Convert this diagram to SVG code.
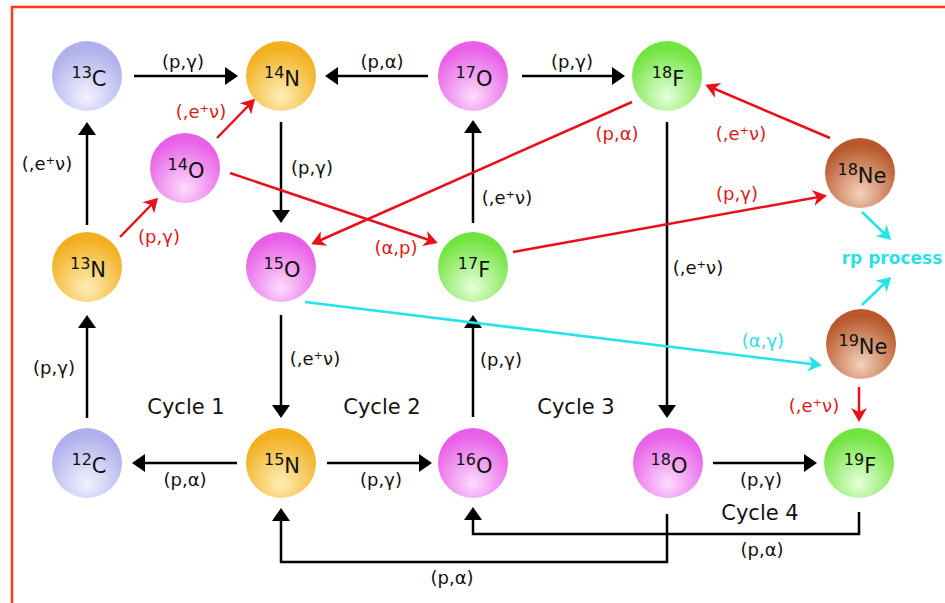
<svg xmlns="http://www.w3.org/2000/svg" width="945" height="603" viewBox="0 0 945 603">
<style>
.lbl{font-family:"DejaVu Sans",sans-serif;font-size:18px;text-anchor:middle}
.k{fill:#111}
.r{fill:#e01818}
.c{fill:#2ee0e6}
.cyc{font-family:"DejaVu Sans",sans-serif;font-size:21px;text-anchor:middle;fill:#111}
.nt{font-family:"DejaVu Sans",sans-serif;text-anchor:middle;fill:#111}
.sup{font-size:16px}
.el{font-size:21px}
.bl{stroke:#000;stroke-width:2.5;fill:none}
.rd{stroke:#e8101a;stroke-width:2.5;fill:none}
.cy{stroke:#22e4ea;stroke-width:2.5;fill:none}
</style>
<defs>
<radialGradient id="gC" cx="0.5" cy="0.72" r="0.62" fx="0.5" fy="0.8"><stop offset="0" stop-color="#f2f2ff"/><stop offset="1" stop-color="#b0b0ec"/></radialGradient>
<radialGradient id="gN" cx="0.5" cy="0.72" r="0.62" fx="0.5" fy="0.8"><stop offset="0" stop-color="#ffeeb8"/><stop offset="1" stop-color="#f2b020"/></radialGradient>
<radialGradient id="gO" cx="0.5" cy="0.72" r="0.62" fx="0.5" fy="0.8"><stop offset="0" stop-color="#fcdcfc"/><stop offset="1" stop-color="#e860e8"/></radialGradient>
<radialGradient id="gF" cx="0.5" cy="0.72" r="0.62" fx="0.5" fy="0.8"><stop offset="0" stop-color="#e6ffdc"/><stop offset="1" stop-color="#72e440"/></radialGradient>
<radialGradient id="gNe" cx="0.5" cy="0.72" r="0.62" fx="0.5" fy="0.8"><stop offset="0" stop-color="#f4d2bc"/><stop offset="1" stop-color="#b8582c"/></radialGradient>
<marker id="ak" viewBox="-14 -10 18 20" refX="-3" refY="0" markerWidth="18" markerHeight="20" orient="auto" markerUnits="userSpaceOnUse"><path d="M0,0 L-13,-9 L-13,9 Z" fill="#000"/></marker>
<marker id="ar" viewBox="-15 -10 18 20" refX="-3" refY="0" markerWidth="18" markerHeight="20" orient="auto" markerUnits="userSpaceOnUse"><path d="M0,0 L-14,-8 L-10,0 L-14,8 Z" fill="#e8101a"/></marker>
<marker id="ac" viewBox="-15 -10 18 20" refX="-3" refY="0" markerWidth="18" markerHeight="20" orient="auto" markerUnits="userSpaceOnUse"><path d="M0,0 L-14,-8 L-10,0 L-14,8 Z" fill="#22e4ea"/></marker>
</defs>
<rect x="0" y="0" width="945" height="603" fill="#fff"/>
<rect x="12" y="7" width="980" height="640" fill="none" stroke="#ff3a10" stroke-width="2.5"/>

<g id="connectors">
<line class="bl" x1="134" y1="76" x2="235" y2="76" marker-end="url(#ak)"/>
<line class="bl" x1="428" y1="76" x2="328" y2="76" marker-end="url(#ak)"/>
<line class="bl" x1="522" y1="76" x2="622" y2="76" marker-end="url(#ak)"/>
<line class="bl" x1="87" y1="225" x2="87" y2="125" marker-end="url(#ak)"/>
<line class="bl" x1="281" y1="122" x2="281" y2="220" marker-end="url(#ak)"/>
<line class="bl" x1="473" y1="223" x2="473" y2="123" marker-end="url(#ak)"/>
<line class="bl" x1="667" y1="122" x2="667" y2="415" marker-end="url(#ak)"/>
<line class="bl" x1="87" y1="418" x2="87" y2="318" marker-end="url(#ak)"/>
<line class="bl" x1="281" y1="315" x2="281" y2="415" marker-end="url(#ak)"/>
<line class="bl" x1="473" y1="417" x2="473" y2="318" marker-end="url(#ak)"/>
<line class="bl" x1="237" y1="463" x2="135" y2="463" marker-end="url(#ak)"/>
<line class="bl" x1="327" y1="463" x2="429" y2="463" marker-end="url(#ak)"/>
<line class="bl" x1="713" y1="463" x2="814" y2="463" marker-end="url(#ak)"/>
<path class="bl" d="M667,514 V562 H281 V511" marker-end="url(#ak)"/>
<path class="bl" d="M859,512 V534 H473 V510" marker-end="url(#ak)"/>

<line class="rd" x1="120" y1="237" x2="156" y2="200" marker-end="url(#ar)"/>
<line class="rd" x1="217" y1="138" x2="253" y2="101" marker-end="url(#ar)"/>
<line class="rd" x1="230" y1="173" x2="435" y2="242" marker-end="url(#ar)"/>
<line class="rd" x1="632" y1="102" x2="314" y2="243" marker-end="url(#ar)"/>
<line class="rd" x1="830" y1="138" x2="708" y2="86" marker-end="url(#ar)"/>
<line class="rd" x1="513" y1="252" x2="824" y2="196" marker-end="url(#ar)"/>
<line class="rd" x1="859" y1="387" x2="859" y2="419" marker-end="url(#ar)"/>

<line class="cy" x1="305" y1="302" x2="819" y2="365" marker-end="url(#ac)"/>
<line class="cy" x1="862" y1="212" x2="889" y2="238" marker-end="url(#ac)"/>
<line class="cy" x1="862" y1="305" x2="889" y2="279" marker-end="url(#ac)"/>
</g>

<g id="labels">
<text class="lbl k" x="183" y="68">(p,γ)</text>
<text class="lbl k" x="382" y="68">(p,α)</text>
<text class="lbl k" x="572" y="68">(p,γ)</text>
<text class="lbl k" x="47" y="170">(,e⁺ν)</text>
<text class="lbl r" x="201" y="118">(,e⁺ν)</text>
<text class="lbl r" x="159" y="243">(p,γ)</text>
<text class="lbl k" x="312" y="174">(p,γ)</text>
<text class="lbl r" x="396" y="254">(α,p)</text>
<text class="lbl k" x="507" y="204">(,e⁺ν)</text>
<text class="lbl r" x="617" y="140">(p,α)</text>
<text class="lbl r" x="741" y="140">(,e⁺ν)</text>
<text class="lbl r" x="737" y="200">(p,γ)</text>
<text class="lbl k" x="698" y="274">(,e⁺ν)</text>
<text x="892" y="264" style="font-family:'DejaVu Sans',sans-serif;font-size:17px;font-weight:bold;text-anchor:middle;fill:#2ee0e6">rp process</text>
<text class="lbl c" x="763" y="347">(α,γ)</text>
<text class="lbl r" x="814" y="412">(,e⁺ν)</text>
<text class="lbl k" x="54" y="374">(p,γ)</text>
<text class="lbl k" x="315" y="365">(,e⁺ν)</text>
<text class="lbl k" x="501" y="366">(p,γ)</text>
<text class="cyc" x="186" y="414">Cycle 1</text>
<text class="cyc" x="382" y="414">Cycle 2</text>
<text class="cyc" x="576" y="414">Cycle 3</text>
<text class="lbl k" x="185" y="486">(p,α)</text>
<text class="lbl k" x="381" y="486">(p,γ)</text>
<text class="lbl k" x="761" y="486">(p,γ)</text>
<text class="cyc" x="760" y="520">Cycle 4</text>
<text class="lbl k" x="762" y="556">(p,α)</text>
<text class="lbl k" x="452" y="584">(p,α)</text>
</g>

<g id="n13C"><circle cx="87" cy="76" r="35" fill="url(#gC)"/><text class="nt" x="89" y="86"><tspan class="sup" dy="-8">13</tspan><tspan class="el" dy="8">C</tspan></text></g>
<g id="n14N"><circle cx="281" cy="76" r="35" fill="url(#gN)"/><text class="nt" x="282" y="86"><tspan class="sup" dy="-8">14</tspan><tspan class="el" dy="8">N</tspan></text></g>
<g id="n17O"><circle cx="473" cy="76" r="35" fill="url(#gO)"/><text class="nt" x="474" y="86"><tspan class="sup" dy="-8">17</tspan><tspan class="el" dy="8">O</tspan></text></g>
<g id="n18F"><circle cx="667" cy="76" r="35" fill="url(#gF)"/><text class="nt" x="668" y="86"><tspan class="sup" dy="-8">18</tspan><tspan class="el" dy="8">F</tspan></text></g>
<g id="n14O"><circle cx="185" cy="168" r="35" fill="url(#gO)"/><text class="nt" x="186" y="178"><tspan class="sup" dy="-8">14</tspan><tspan class="el" dy="8">O</tspan></text></g>
<g id="n18Ne"><circle cx="860" cy="173" r="35" fill="url(#gNe)"/><text class="nt" x="862" y="183"><tspan class="sup" dy="-8">18</tspan><tspan class="el" dy="8">Ne</tspan></text></g>
<g id="n13N"><circle cx="87" cy="267" r="35" fill="url(#gN)"/><text class="nt" x="88" y="277"><tspan class="sup" dy="-8">13</tspan><tspan class="el" dy="8">N</tspan></text></g>
<g id="n15O"><circle cx="281" cy="267" r="35" fill="url(#gO)"/><text class="nt" x="282" y="277"><tspan class="sup" dy="-8">15</tspan><tspan class="el" dy="8">O</tspan></text></g>
<g id="n17F"><circle cx="473" cy="267" r="35" fill="url(#gF)"/><text class="nt" x="474" y="277"><tspan class="sup" dy="-8">17</tspan><tspan class="el" dy="8">F</tspan></text></g>
<g id="n19Ne"><circle cx="861" cy="344" r="35" fill="url(#gNe)"/><text class="nt" x="863" y="354"><tspan class="sup" dy="-8">19</tspan><tspan class="el" dy="8">Ne</tspan></text></g>
<g id="n12C"><circle cx="87" cy="463" r="35" fill="url(#gC)"/><text class="nt" x="89" y="473"><tspan class="sup" dy="-8">12</tspan><tspan class="el" dy="8">C</tspan></text></g>
<g id="n15N"><circle cx="281" cy="463" r="35" fill="url(#gN)"/><text class="nt" x="282" y="473"><tspan class="sup" dy="-8">15</tspan><tspan class="el" dy="8">N</tspan></text></g>
<g id="n16O"><circle cx="473" cy="463" r="35" fill="url(#gO)"/><text class="nt" x="474" y="473"><tspan class="sup" dy="-8">16</tspan><tspan class="el" dy="8">O</tspan></text></g>
<g id="n18O"><circle cx="668" cy="463" r="35" fill="url(#gO)"/><text class="nt" x="669" y="473"><tspan class="sup" dy="-8">18</tspan><tspan class="el" dy="8">O</tspan></text></g>
<g id="n19F"><circle cx="859" cy="463" r="35" fill="url(#gF)"/><text class="nt" x="860" y="473"><tspan class="sup" dy="-8">19</tspan><tspan class="el" dy="8">F</tspan></text></g>
</svg>
